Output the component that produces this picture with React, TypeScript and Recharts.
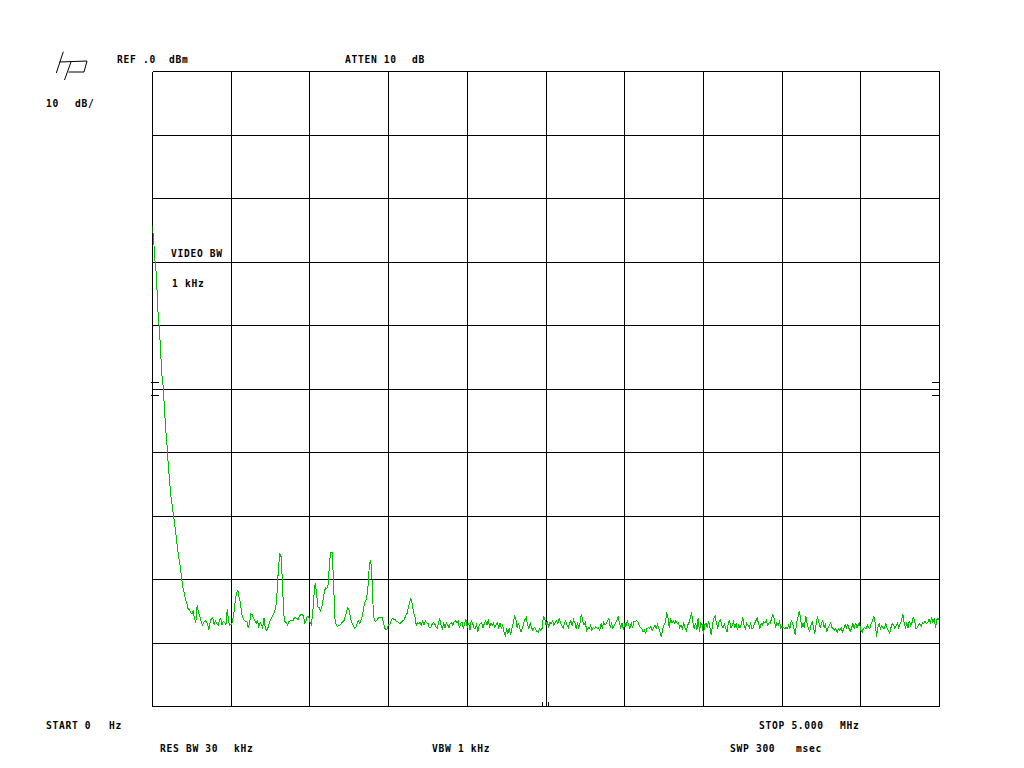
import React from 'react';
import { LineChart, Line, XAxis, YAxis, CartesianGrid, ReferenceLine } from 'recharts';

// ---- instrument settings ----
const START_MHZ = 0;
const STOP_MHZ = 5;
const TRACE_POINTS = 601;
const REF_LEVEL_DBM = 0;
const BOTTOM_DBM = -100;

// ---- tick values (10 divisions each way) ----
const freqTicks = [0, 0.5, 1, 1.5, 2, 2.5, 3, 3.5, 4, 4.5, 5];
const levelTicks = [-100, -90, -80, -70, -60, -50, -40, -30, -20, -10, 0];

// ---- trace (dBm), 601 points from 0 to 5 MHz ----
const TRACE_ROLLOFF = [
  -24.4, -26.9, -30.1, -32.1, -37.3, -40.0, -43.1, -47.4, -49.4, -52.6,
  -56.2, -58.6, -62.0, -64.4, -66.8, -68.3, -69.9, -71.5, -73.1, -75.0,
  -76.4, -77.8, -79.4, -81.1, -82.0, -83.0, -83.6, -84.6,
];

const TRACE_SPURS = [
  -84.7, -85.2, -85.4, -85.0, -86.1, -86.9, -84.1, -85.2, -85.7, -86.5,
  -87.2, -86.8, -86.5, -86.6, -87.1, -87.9, -86.6, -86.1, -86.0, -87.2,
  -86.5, -86.9, -87.2, -86.5, -86.1, -87.2, -86.6, -86.8, -87.1, -84.7,
  -86.6, -87.2, -87.1, -86.6, -85.4, -83.6, -82.2, -81.6, -82.8, -83.6,
  -85.4, -86.1, -86.5, -86.6, -86.6, -87.6, -86.8, -85.4, -85.5, -86.1,
  -86.5, -86.9, -86.5, -87.4, -86.8, -87.1, -87.6, -86.1, -87.7, -88.0,
  -87.6, -86.9, -86.3, -86.0, -85.5, -85.2, -84.4, -81.9, -78.3, -75.9,
  -76.4, -80.0, -85.5, -86.6, -86.8, -87.2, -86.6, -86.5, -86.5, -86.5,
  -86.1, -86.0, -86.1, -86.3, -85.8, -85.5, -85.5, -85.7, -86.8, -86.6,
  -85.8, -85.8, -86.6, -87.1, -85.7, -82.8, -80.6, -82.0, -84.3, -84.4,
  -84.9, -84.4, -83.3, -81.9, -81.3, -81.4, -80.8, -77.0, -75.7, -75.7,
  -80.2, -86.0, -87.1, -87.4, -87.2, -87.2, -86.9, -86.6, -86.5, -85.8,
  -85.0, -84.4, -84.9, -86.1, -86.8, -87.2, -87.7, -87.6, -86.9, -86.5,
  -86.9, -86.3, -85.7, -84.4, -83.6, -83.1, -82.0, -78.7, -77.0, -78.0,
  -83.6, -86.3, -86.6, -86.5, -86.1, -86.0, -86.0, -86.0, -86.8, -87.6,
  -88.0, -87.7, -87.1, -87.1, -86.5, -86.1, -86.3, -86.3, -86.6, -86.6,
  -86.9, -86.9, -86.6, -86.5, -86.3, -85.7, -85.4, -84.4, -83.6, -83.0,
  -83.9, -85.2, -85.7, -87.2, -86.8, -86.9, -86.8, -87.2, -86.6, -87.1,
  -86.5, -86.8, -86.9, -87.6,
];

const TRACE_FLOOR_A = [
  -87.6, -87.1, -86.8, -86.9, -87.4, -87.7, -86.8, -86.1, -87.2, -87.7,
  -86.9, -87.6, -86.8, -87.1, -87.6, -86.9, -86.8, -87.2, -86.6, -86.5,
  -86.8, -86.5, -87.7, -86.9, -86.8, -87.7, -86.9, -86.3, -87.6, -86.9,
  -88.0, -86.5, -86.8, -87.6, -87.7, -87.1, -88.2, -87.2, -86.9, -86.8,
  -87.6, -86.9, -86.5, -87.2, -86.3, -87.6, -86.9, -87.2, -86.9, -87.6,
  -87.1, -86.8, -87.6, -86.9, -87.7, -87.2, -88.3, -88.8, -87.7, -88.5,
  -87.6, -88.7, -87.7, -86.9, -85.8, -86.1, -87.6, -86.8, -87.7, -88.3,
  -87.6, -86.9, -86.3, -86.0, -87.2, -87.7, -86.9, -87.6, -88.0, -87.6,
  -87.7, -88.2, -88.3, -87.7, -88.0, -87.7, -85.8, -86.1, -87.2, -86.5,
  -87.6, -86.8, -86.9, -86.5, -87.2, -86.8, -86.5, -86.9, -86.1, -86.8,
  -87.2, -87.7, -86.9, -86.5, -87.2, -87.6,
];

const TRACE_FLOOR_B = [
  -86.9, -86.5, -87.2, -86.3, -86.8, -87.7, -86.9, -87.6, -86.8, -85.4,
  -86.5, -87.2, -86.8, -88.0, -87.6, -87.7, -87.2, -88.0, -87.6, -87.7,
  -87.4, -87.7, -87.6, -88.0, -86.9, -87.6, -86.8, -87.2, -86.9, -86.5,
  -86.1, -87.6, -86.9, -87.7, -87.2, -86.9, -86.5, -85.8, -86.8, -87.7,
  -86.9, -88.0, -86.8, -87.4, -86.5, -87.2, -87.7, -86.9, -87.6, -86.6,
  -86.6,
  -86.5, -86.6, -87.2, -87.6, -87.7, -88.3, -88.0, -88.5, -87.7, -87.6,
  -87.7, -87.4, -88.0, -87.6, -87.2, -87.7, -87.1, -87.7, -88.3, -89.1,
  -87.7, -87.2, -86.8, -85.2, -86.1, -87.6, -86.1, -86.8, -86.5, -86.9,
  -86.5, -86.9, -86.8, -87.6, -87.2, -87.7, -86.9, -87.6, -88.0, -87.2,
  -86.8, -86.1, -85.2, -86.8, -87.7, -86.8, -88.0, -86.1, -88.3, -86.9,
  -87.1,
  -88.5, -87.2, -86.8, -87.6, -86.5, -87.6, -88.8, -86.9, -86.1, -85.8,
  -86.9, -87.7, -86.6, -86.3, -87.2, -87.6, -87.1, -87.7, -88.3, -86.8,
  -86.5, -87.6, -87.2, -86.6, -87.6, -86.9, -88.0, -87.2, -87.6, -86.9,
  -86.0, -87.2, -87.7, -86.9, -87.2, -87.6, -86.9, -87.7,
];

const TRACE_FLOOR_C = [
  -87.6, -86.9, -86.5, -86.1, -86.9, -87.7, -86.9, -87.2, -86.6, -86.9,
  -86.5, -87.2, -86.8, -86.9, -86.1, -85.5, -86.1, -87.6, -86.8, -87.2,
  -86.6, -87.6, -87.4, -87.6, -87.7, -87.6, -87.7, -87.2, -87.7, -86.5,
  -86.9, -87.7, -88.7, -86.9, -86.1, -85.0, -86.0, -87.6, -86.8, -87.7,
  -85.7, -86.9, -87.6, -88.3, -87.2, -86.5, -87.7, -88.5, -86.9, -85.8,
  -86.8, -87.6, -86.9, -86.5, -87.6, -87.1, -88.3, -87.7, -87.2, -86.8,
  -87.6, -87.7, -88.0, -87.7, -88.3, -87.7, -88.0, -87.6, -88.3, -87.7,
  -87.1,
  -87.6, -87.1, -87.7, -88.2, -87.6, -86.9, -87.7, -86.8, -87.6, -87.2,
  -86.8, -88.0, -88.3, -87.7, -87.6, -87.7, -87.2, -87.6, -87.7, -86.9,
  -86.5, -85.8, -86.8, -89.0, -87.6, -86.9, -87.7, -87.2, -87.6, -87.7,
  -86.9, -87.7, -88.0, -88.5, -87.6, -86.9, -87.2, -87.7, -87.2, -86.8,
  -87.6, -86.9, -86.5, -85.4, -86.8, -87.6, -86.9, -87.6, -86.5, -87.2,
  -86.8, -86.0, -86.5, -87.7, -87.6, -87.2, -86.9, -87.4, -86.8, -86.9,
  -86.6, -86.9, -86.8, -86.3, -86.8, -86.1, -86.8, -86.1, -87.6, -86.3,
  -86.1, -86.5,
];

// display-line markers beside the graticule and the centre-frequency marks
const displayLineLevels = [-49, -51];
const centreMarkFreqs = [2.477, 2.515];

const trace = [
  ...TRACE_ROLLOFF,
  ...TRACE_SPURS,
  ...TRACE_FLOOR_A,
  ...TRACE_FLOOR_B,
  ...TRACE_FLOOR_C,
];
const stepMHz = (STOP_MHZ - START_MHZ) / (TRACE_POINTS - 1);
const data = trace.map((v, i) => ({ f: START_MHZ + i * stepMHz, v }));

// ---- annotation texts ----
const annotations = [
  { t: 'REF .0', x: 117, y: 63 },
  { t: 'dBm', x: 169, y: 63 },
  { t: 'ATTEN 10', x: 345, y: 63 },
  { t: 'dB', x: 412, y: 63 },
  { t: '10', x: 46, y: 107 },
  { t: 'dB/', x: 75, y: 107 },
  { t: 'VIDEO BW', x: 171, y: 257 },
  { t: '1 kHz', x: 172, y: 287 },
  { t: 'START 0', x: 46, y: 729 },
  { t: 'Hz', x: 109, y: 729 },
  { t: 'STOP 5.000', x: 759, y: 729 },
  { t: 'MHz', x: 840, y: 729 },
  { t: 'RES BW 30', x: 160, y: 752 },
  { t: 'kHz', x: 234, y: 752 },
  { t: 'VBW 1 kHz', x: 432, y: 752 },
  { t: 'SWP 300', x: 730, y: 752 },
  { t: 'msec', x: 796, y: 752 },
];

const FONT = '"DejaVu Sans Mono", "Liberation Mono", monospace';

export default function App() {
  return (
    <div style={{ position: 'absolute', left: 0, top: 0, width: 1024, height: 768, background: '#fff' }}>
      <LineChart
        width={1024}
        height={768}
        data={data}
        margin={{ top: 71.5, left: 152.5, right: 84.5, bottom: 61.5 }}
      >
        <XAxis dataKey="f" type="number" domain={[START_MHZ, STOP_MHZ]} ticks={freqTicks} hide height={0} allowDataOverflow />
        <YAxis type="number" domain={[BOTTOM_DBM, REF_LEVEL_DBM]} ticks={levelTicks} hide width={0} allowDataOverflow />
        <CartesianGrid
          stroke="#000"
          strokeWidth={1}
          verticalValues={freqTicks}
          horizontalValues={levelTicks}
          shapeRendering="crispEdges"
        />
        {displayLineLevels.map((lv) => (
          <ReferenceLine
            key={'l' + lv}
            segment={[{ x: -0.01, y: lv }, { x: 0.042, y: lv }]}
            stroke="#000"
            strokeWidth={1}
            ifOverflow="visible"
            shapeRendering="crispEdges"
          />
        ))}
        {displayLineLevels.map((lv) => (
          <ReferenceLine
            key={'r' + lv}
            segment={[{ x: 4.952, y: lv }, { x: 5.0, y: lv }]}
            stroke="#000"
            strokeWidth={1}
            ifOverflow="visible"
            shapeRendering="crispEdges"
          />
        ))}
        {centreMarkFreqs.map((f) => (
          <ReferenceLine
            key={'c' + f}
            segment={[{ x: f, y: BOTTOM_DBM }, { x: f, y: -99.3 }]}
            stroke="#000"
            strokeWidth={1}
            ifOverflow="visible"
            shapeRendering="crispEdges"
          />
        ))}
        <Line
          type="linear"
          dataKey="v"
          stroke="#00c000"
          strokeWidth={1}
          dot={false}
          isAnimationActive={false}
          shapeRendering="crispEdges"
        />
      </LineChart>
      <svg
        width={1024}
        height={768}
        style={{ position: 'absolute', left: 0, top: 0, pointerEvents: 'none' }}
      >
        <g stroke="#000" strokeWidth={1} fill="none">
          <polyline points="63.3,51.7 56.3,73" />
          <polyline points="59.5,62 87,61 84,72 68.5,72" />
          <polyline points="71,62 64.5,80" />
        </g>
        {annotations.map((a) => (
          <text
            key={a.t + a.x}
            x={a.x}
            y={a.y}
            fontFamily={FONT}
            fontWeight="bold"
            fontSize={9.6}
            style={{ letterSpacing: '0.7px', whiteSpace: 'pre' }}
            fill="#000"
          >
            {a.t}
          </text>
        ))}
      </svg>
    </div>
  );
}
